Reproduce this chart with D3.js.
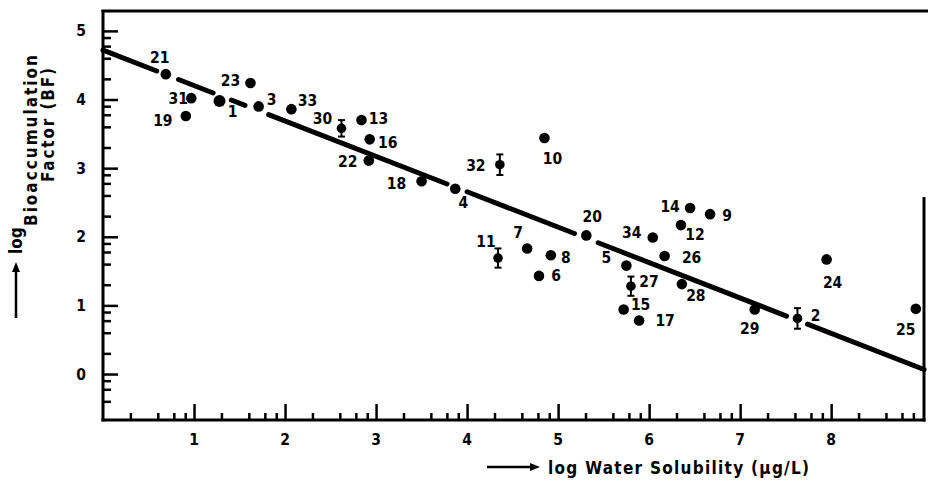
<!DOCTYPE html>
<html>
<head>
<meta charset="utf-8">
<script src="https://cdn.jsdelivr.net/npm/d3@7"></script>
<style>
  body { margin: 0; background: #fff; }
  svg { display: block; }
  text { font-family: "DejaVu Sans Condensed", "DejaVu Sans", sans-serif; font-weight: bold; fill: #000; }
  .domain { display: none; }
</style>
</head>
<body>
<svg width="928" height="482"></svg>
<script>
// compound number, log water solubility, log BF, error (log units, 0 = none)
var ids    = [21, 31, 19, 1, 23, 3, 33, 30, 13, 16, 22, 18, 4, 32, 10, 20, 7,
              11, 8, 6, 5, 34, 14, 9, 12, 26, 27, 15, 17, 28, 29, 2, 24, 25];
var logWS  = [0.69, 0.97, 0.91, 1.28, 1.62, 1.71, 2.07, 2.62, 2.84, 2.93, 2.92, 3.50, 3.87, 4.36, 4.85, 5.31, 4.66,
              4.34, 4.92, 4.79, 5.75, 6.04, 6.45, 6.67, 6.35, 6.17, 5.80, 5.72, 5.89, 6.36, 7.16, 7.63, 7.95, 8.93];
var logBF  = [4.37, 4.02, 3.76, 3.98, 4.24, 3.90, 3.86, 3.58, 3.70, 3.42, 3.11, 2.81, 2.70, 3.05, 3.44, 2.02, 1.83,
              1.69, 1.73, 1.43, 1.58, 1.99, 2.42, 2.33, 2.17, 1.72, 1.28, 0.94, 0.78, 1.31, 0.94, 0.81, 1.67, 0.95];
var errBF  = [0, 0, 0, 0, 0, 0, 0, 0.12, 0, 0, 0, 0, 0, 0.15, 0, 0, 0,
              0.14, 0, 0, 0, 0, 0, 0, 0, 0, 0.14, 0, 0, 0, 0, 0.15, 0, 0];

// regression line log BF = a + b * log WS, drawn with breaks
var fitA = 4.72, fitB = -0.516;
var fitGaps = [[0.59, 0.83], [1.21, 1.41], [1.56, 1.82], [3.78, 4.00], [5.18, 5.44], [7.51, 7.74]];

var xMajor = [1, 2, 3, 4, 5, 6, 7, 8];
var yMajor = [0, 1, 2, 3, 4, 5];
var minorSteps = [2, 4, 6, 8];   // minor ticks at log10 of these within every unit

// label placement around each dot (px), same order as ids
var labelDx = [-6, -13, -23, 13, -20, 13, 16, -19, 17, 18, -21, -25, 8, -24, 8, 6, -9,
               -12, 15, 17, -20, -21, -20, 17, 14, 27, 18, 17, 26, 14, -5, 18, 6, -10];
var labelDy = [-17, 0, 4, 11, -3, -7, -9, -10, -2, 3, 1, 2, 14, 1, 20, -19, -16,
               -17, 2, 0, -8, -5, -2, 1, 9, 1, -5, -5, 0, 11, 19, -3, 23, 21];

var svg = d3.select("svg");

var x = d3.scaleLinear().domain([0, 9.02]).range([103, 924]);
var y = d3.scaleLinear().domain([-0.67, 5.29]).range([420, 11]);

function minorOf(lo, hi) {
  var out = [];
  for (var k = lo; k < hi; k++) {
    minorSteps.forEach(function(s){ out.push(k + Math.log10(s)); });
  }
  return out;
}

// frame
svg.append("line").attr("x1", 101.5).attr("x2", 928).attr("y1", 11).attr("y2", 11)
  .attr("stroke", "#000").attr("stroke-width", 3);
svg.append("line").attr("x1", 103).attr("x2", 103).attr("y1", 10).attr("y2", 421.5)
  .attr("stroke", "#000").attr("stroke-width", 3);
svg.append("line").attr("x1", 101.5).attr("x2", 925.5).attr("y1", 420).attr("y2", 420)
  .attr("stroke", "#000").attr("stroke-width", 3);
svg.append("line").attr("x1", 924).attr("x2", 924).attr("y1", 197).attr("y2", 421.5)
  .attr("stroke", "#000").attr("stroke-width", 3);

// ticks
function styleTicks(g, w) {
  g.selectAll(".tick line").attr("stroke", "#000").attr("stroke-width", w);
}
svg.append("g").attr("transform", "translate(0,420)")
  .call(d3.axisBottom(x).tickValues(minorOf(0, 9).filter(function(v){ return v < 9.02; }))
        .tickSize(-7).tickFormat(""))
  .call(styleTicks, 2.5);
svg.append("g").attr("transform", "translate(0,420)")
  .call(d3.axisBottom(x).tickValues(xMajor).tickSize(-16).tickFormat(""))
  .call(styleTicks, 2.5);
svg.append("g").attr("transform", "translate(103,0)")
  .call(d3.axisLeft(y).tickValues(minorOf(-1, 5).filter(function(v){ return v > -0.67 && v < 5.29; }))
        .tickSize(-8).tickFormat(""))
  .call(styleTicks, 2.5);
svg.append("g").attr("transform", "translate(103,0)")
  .call(d3.axisLeft(y).tickValues(yMajor).tickSize(-15).tickFormat(""))
  .call(styleTicks, 2.5);

// tick labels
svg.append("g").selectAll("text").data(xMajor).enter().append("text")
  .attr("x", function(d){ return x(d); }).attr("y", 445)
  .attr("text-anchor", "middle").style("font-size", "15.5px")
  .text(function(d){ return d; });
svg.append("g").selectAll("text").data(yMajor).enter().append("text")
  .attr("x", 81).attr("y", function(d){ return y(d) + 5.5; })
  .attr("text-anchor", "middle").style("font-size", "15.5px")
  .text(function(d){ return d; });

// regression line with breaks
var segs = [], start = 0;
fitGaps.forEach(function(g){ segs.push([start, g[0]]); start = g[1]; });
segs.push([start, 9.02]);
svg.append("g").selectAll("line").data(segs).enter().append("line")
  .attr("x1", function(d){ return x(d[0]); })
  .attr("x2", function(d){ return x(d[1]); })
  .attr("y1", function(d){ return y(fitA + fitB * d[0]); })
  .attr("y2", function(d){ return y(fitA + fitB * d[1]); })
  .attr("stroke", "#000").attr("stroke-width", 5).attr("stroke-linecap", "round");

// points
var pts = ids.map(function(id, i){
  return { id: id, ws: logWS[i], bf: logBF[i], err: errBF[i], dx: labelDx[i], dy: labelDy[i] };
});

var eb = svg.append("g").selectAll("g").data(pts.filter(function(d){ return d.err > 0; }))
  .enter().append("g").attr("stroke", "#000").attr("stroke-width", 2);
eb.append("line")
  .attr("x1", function(d){ return x(d.ws); }).attr("x2", function(d){ return x(d.ws); })
  .attr("y1", function(d){ return y(d.bf + d.err); }).attr("y2", function(d){ return y(d.bf - d.err); });
eb.append("line")
  .attr("x1", function(d){ return x(d.ws) - 3.5; }).attr("x2", function(d){ return x(d.ws) + 3.5; })
  .attr("y1", function(d){ return y(d.bf + d.err); }).attr("y2", function(d){ return y(d.bf + d.err); });
eb.append("line")
  .attr("x1", function(d){ return x(d.ws) - 3.5; }).attr("x2", function(d){ return x(d.ws) + 3.5; })
  .attr("y1", function(d){ return y(d.bf - d.err); }).attr("y2", function(d){ return y(d.bf - d.err); });

svg.append("g").selectAll("circle").data(pts).enter().append("circle")
  .attr("cx", function(d){ return x(d.ws); })
  .attr("cy", function(d){ return y(d.bf); })
  .attr("r", function(d){ return d.id === 1 ? 6 : (d.err > 0 ? 4.8 : 5.3); })
  .attr("fill", "#000");

svg.append("g").selectAll("text").data(pts).enter().append("text")
  .attr("x", function(d){ return x(d.ws) + d.dx; })
  .attr("y", function(d){ return y(d.bf) + d.dy; })
  .attr("dy", "0.36em").attr("text-anchor", "middle")
  .style("font-size", "15.5px")
  .text(function(d){ return d.id; });

// axis titles with arrows
function arrow(x1, y1, x2, y2) {
  var a = Math.atan2(y2 - y1, x2 - x1), L = 10, W = 4;
  svg.append("line").attr("x1", x1).attr("y1", y1)
    .attr("x2", x2 - Math.cos(a) * L * 0.6).attr("y2", y2 - Math.sin(a) * L * 0.6)
    .attr("stroke", "#000").attr("stroke-width", 2.5);
  var bx = x2 - Math.cos(a) * L, by = y2 - Math.sin(a) * L;
  svg.append("path")
    .attr("d", "M" + x2 + "," + y2 +
      "L" + (bx - Math.sin(a) * W) + "," + (by + Math.cos(a) * W) +
      "L" + (bx + Math.sin(a) * W) + "," + (by - Math.cos(a) * W) + "Z")
    .attr("fill", "#000");
}
arrow(487, 467, 540, 467);
svg.append("text").attr("x", 548).attr("y", 474)
  .attr("textLength", 261).attr("lengthAdjust", "spacing")
  .style("font-size", "17px")
  .text("log Water Solubility (µg/L)");

arrow(16, 318, 16, 262);
svg.append("text").attr("transform", "translate(22,254) rotate(-90)")
  .style("font-size", "17px").text("log");
svg.append("text").attr("transform", "translate(37,226) rotate(-90)")
  .attr("textLength", 171).attr("lengthAdjust", "spacing")
  .style("font-size", "17px").text("Bioaccumulation");
svg.append("text").attr("transform", "translate(54,182) rotate(-90)")
  .attr("textLength", 114).attr("lengthAdjust", "spacing")
  .style("font-size", "17px").text("Factor (BF)");
</script>
</body>
</html>
